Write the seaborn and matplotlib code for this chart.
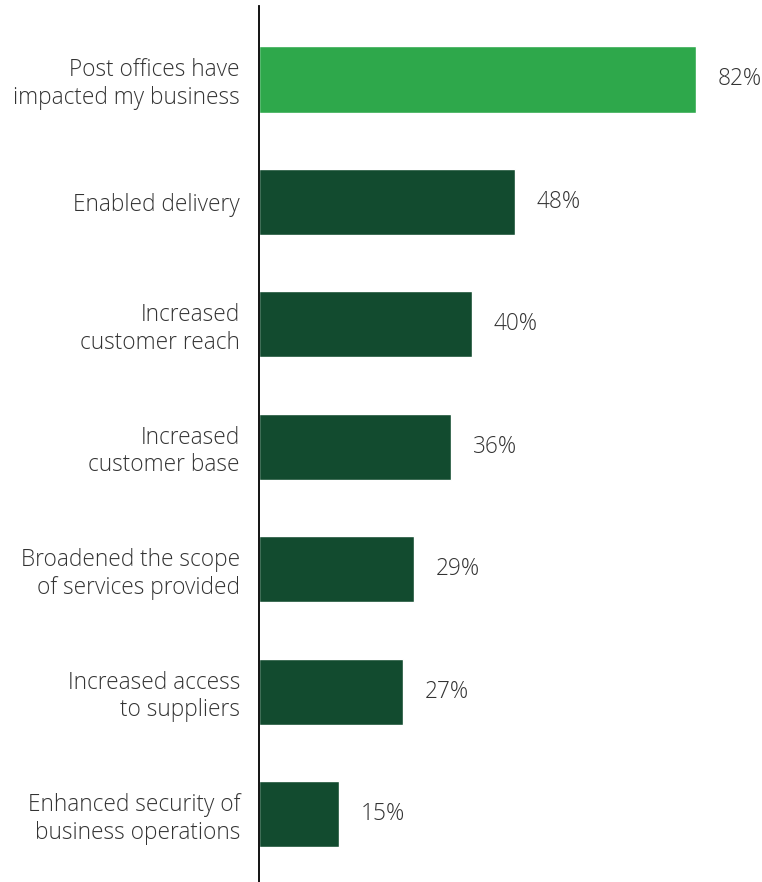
import matplotlib
matplotlib.use("Agg")
import matplotlib.pyplot as plt
import seaborn as sns
import pandas as pd

categories = [
    "Post offices have\nimpacted my business",
    "Enabled delivery",
    "Increased\ncustomer reach",
    "Increased\ncustomer base",
    "Broadened the scope\nof services provided",
    "Increased access\nto suppliers",
    "Enhanced security of\nbusiness operations",
]
values = [82, 48, 40, 36, 29, 27, 15]
colors = ["#2EA84B", "#124B2F", "#124B2F", "#124B2F", "#124B2F", "#124B2F", "#124B2F"]

df = pd.DataFrame({"category": categories, "value": values})

sns.set_style("white")
plt.rcParams["font.family"] = ["Open Sans", "DejaVu Sans"]

fig = plt.figure(figsize=(7.62, 8.82), dpi=100)
ax = fig.add_axes([259 / 762, 0, 1 - 259 / 762, 1 - 6 / 882])

sns.barplot(data=df, x="value", y="category", hue="category", palette=colors,
            legend=False, width=0.54, ax=ax, saturation=1)

for i, v in enumerate(values):
    ax.text(v + 4.1, i, f"{v}%", va="center", ha="left", fontsize=16.3,
            color="#333333", fontweight="light")

ax.set_xlim(0, 94.4)
ax.set_ylim(6.555, -0.6)
ax.set_xlabel("")
ax.set_ylabel("")
ax.set_xticks([])
ax.tick_params(axis="y", length=0, pad=13.7)
for lbl in ax.get_yticklabels():
    lbl.set_fontsize(16.3)
    lbl.set_color("#333333")
    lbl.set_fontweight("light")
    lbl.set_ha("right")
    lbl.set_multialignment("right")
for s in ["top", "right", "bottom"]:
    ax.spines[s].set_visible(False)
ax.spines["left"].set_color("black")
ax.spines["left"].set_linewidth(1.3)

fig.savefig("out.png", dpi=100)
